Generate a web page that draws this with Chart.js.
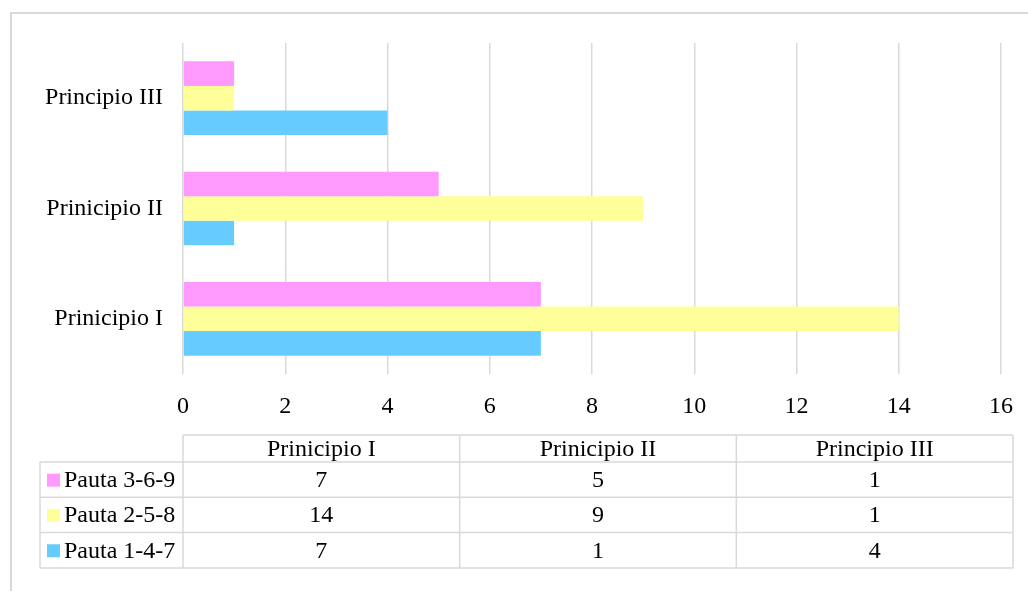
<!DOCTYPE html>
<html>
<head>
<meta charset="utf-8">
<script src="https://cdn.jsdelivr.net/npm/chart.js@4.4.0/dist/chart.umd.min.js"></script>
<style>
  html, body { margin: 0; padding: 0; background: #fff; overflow: hidden; }
  #frame { position: absolute; left: 10px; top: 12px; width: 1040px; height: 600px;
           border: 2px solid #d9d9d9; box-sizing: border-box; }
  #wrap { position: absolute; left: 0; top: 0; width: 1028px; height: 591px; }
</style>
</head>
<body>
<div id="frame"></div>
<div id="wrap"><canvas id="chart" width="1028" height="591"></canvas></div>
<script>
const categories = ['Prinicipio I', 'Prinicipio II', 'Principio III'];
const seriesNames = ['Pauta 3-6-9', 'Pauta 2-5-8', 'Pauta 1-4-7'];
const pauta369 = [7, 5, 1];
const pauta258 = [14, 9, 1];
const pauta147 = [7, 1, 4];
const seriesColors = ['#ff99ff', '#ffff99', '#66ccff'];
const xTicks = [0, 2, 4, 6, 8, 10, 12, 14, 16];

const font = "'Liberation Serif', 'Times New Roman', serif";
const fontSize = 24;
const gridColor = '#d9d9d9';

const seriesValues = [pauta369, pauta258, pauta147];

// data table under the plot, drawn from the same arrays
const dataTable = {
    id: 'dataTable',
    afterDraw(chart) {
        const ctx = chart.ctx;
        const area = chart.chartArea;
        const left = 40;
        const colLeft = area.left;
        const colW = (area.right + 12 - area.left) / categories.length;
        const right = colLeft + colW * categories.length;
        const top = 435, headH = 27, rowH = 35.3;
        ctx.save();
        ctx.strokeStyle = gridColor;
        ctx.lineWidth = 1.5;
        ctx.beginPath();
        ctx.moveTo(colLeft, top); ctx.lineTo(right, top);
        for (let c = 0; c <= categories.length; c++) {
            ctx.moveTo(colLeft + c * colW, top);
            ctx.lineTo(colLeft + c * colW, top + headH + rowH * seriesNames.length);
        }
        for (let r = 0; r <= seriesNames.length; r++) {
            const y = top + headH + r * rowH;
            ctx.moveTo(left, y); ctx.lineTo(right, y);
        }
        ctx.moveTo(left, top + headH);
        ctx.lineTo(left, top + headH + rowH * seriesNames.length);
        ctx.stroke();

        ctx.fillStyle = '#000';
        ctx.font = fontSize + 'px ' + font;
        ctx.textBaseline = 'middle';
        ctx.textAlign = 'center';
        categories.forEach((c, i) => {
            ctx.fillText(c, colLeft + colW * (i + 0.5), top + headH / 2 + 1);
        });
        seriesNames.forEach((s, r) => {
            const yc = top + headH + rowH * (r + 0.5) + 1;
            ctx.fillStyle = seriesColors[r];
            ctx.fillRect(47, yc - 7, 13, 13);
            ctx.fillStyle = '#000';
            ctx.textAlign = 'left';
            ctx.fillText(s, 64, yc);
            ctx.textAlign = 'center';
            seriesValues[r].forEach((v, i) => {
                ctx.fillText(String(v), colLeft + colW * (i + 0.5), yc);
            });
        });
        ctx.restore();
    }
};

const chart = new Chart(document.getElementById('chart'), {
    type: 'bar',
    data: {
        labels: categories,
        datasets: seriesNames.map((name, i) => ({
            label: name,
            data: seriesValues[i],
            backgroundColor: seriesColors[i],
            borderWidth: 0,
            categoryPercentage: 0.667,
            barPercentage: 1
        }))
    },
    options: {
        indexAxis: 'y',
        responsive: false,
        animation: false,
        layout: { padding: { left: 0, right: 27, top: 43, bottom: 172 } },
        plugins: { legend: { display: false }, tooltip: { enabled: false } },
        scales: {
            x: {
                min: 0, max: 16,
                afterBuildTicks: (s) => { s.ticks = xTicks.map(v => ({ value: v })); },
                afterFit: (s) => { s.height = 45; s.paddingLeft = 0; s.paddingRight = 0; },
                border: { display: false },
                grid: { color: gridColor, lineWidth: 1.5, drawTicks: false },
                ticks: { padding: 18, color: '#000', font: { family: font, size: fontSize } }
            },
            y: {
                reverse: true,
                afterFit: (s) => { s.width = 183; },
                border: { display: false },
                grid: { display: false, drawTicks: false },
                ticks: { padding: 20, color: '#000', font: { family: font, size: fontSize } }
            }
        }
    },
    plugins: [dataTable]
});
</script>
</body>
</html>
